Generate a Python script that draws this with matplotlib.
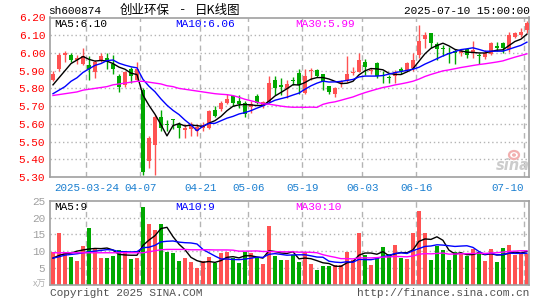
import numpy as np
import pandas as pd
import matplotlib
matplotlib.use("Agg")
import matplotlib.pyplot as plt
from matplotlib.patches import Ellipse

# ---------------- data ----------------
holidays = ["2025-04-04", "2025-05-01", "2025-05-02", "2025-05-05", "2025-06-02"]
dates = [d.strftime("%Y-%m-%d") for d in pd.bdate_range("2025-03-14", "2025-07-10")
         if d.strftime("%Y-%m-%d") not in holidays]

opens = [5.85, 5.91, 5.99, 5.99, 5.96, 5.94, 5.93, 5.89, 5.96, 5.97,
         5.94, 5.87, 5.82, 5.91, 5.85, 5.79, 5.39, 5.48, 5.64, 5.60,
         5.625, 5.60, 5.565, 5.57, 5.56, 5.575, 5.575, 5.68, 5.685, 5.72,
         5.755, 5.73, 5.72, 5.695, 5.755, 5.70, 5.725, 5.85, 5.82, 5.795,
         5.845, 5.885, 5.775, 5.898, 5.905, 5.88, 5.815, 5.77, 5.83, 5.84,
         5.885, 5.895, 5.95, 5.90, 5.945, 5.875, 5.865, 5.87, 5.91, 5.905,
         5.915, 5.99, 6.08, 6.11, 6.05, 6.03, 6.00, 6.01, 6.00, 6.02,
         5.998, 5.99, 5.975, 5.995, 6.04, 6.055, 6.02, 6.092, 6.10, 6.13]
closes = [5.88, 5.99, 6.00, 5.96, 5.97, 5.98, 5.91, 5.95, 5.98, 5.95,
          5.91, 5.81, 5.89, 5.87, 5.91, 5.33, 5.52, 5.64, 5.575, 5.595,
          5.62, 5.575, 5.575, 5.60, 5.58, 5.595, 5.67, 5.645, 5.72, 5.74,
          5.72, 5.71, 5.655, 5.71, 5.72, 5.725, 5.83, 5.80, 5.81, 5.825,
          5.84, 5.82, 5.87, 5.905, 5.87, 5.84, 5.78, 5.805, 5.84, 5.88,
          5.895, 5.96, 5.92, 5.905, 5.87, 5.87, 5.86, 5.89, 5.90, 5.945,
          5.96, 6.07, 6.10, 6.055, 6.025, 6.025, 5.995, 6.00, 6.013, 5.99,
          6.017, 5.98, 5.998, 6.055, 6.027, 6.027, 6.10, 6.114, 6.12, 6.17]
highs = [5.90, 6.00, 6.01, 6.00, 5.99, 6.03, 5.98, 5.96, 6.00, 6.00,
         5.99, 5.88, 5.90, 5.92, 5.95, 5.80, 5.53, 5.65, 5.68, 5.62,
         5.63, 5.61, 5.60, 5.61, 5.60, 5.61, 5.68, 5.70, 5.73, 5.77,
         5.76, 5.76, 5.73, 5.73, 5.77, 5.73, 5.87, 5.87, 5.86, 5.85,
         5.865, 5.91, 5.91, 5.915, 5.91, 5.88, 5.815, 5.81, 5.85, 5.98,
         5.92, 6.00, 5.965, 5.915, 5.95, 5.90, 5.875, 5.905, 5.92, 5.95,
         6.00, 6.16, 6.12, 6.11, 6.06, 6.045, 6.035, 6.02, 6.02, 6.027,
         6.07, 6.00, 6.017, 6.06, 6.064, 6.064, 6.12, 6.12, 6.14, 6.18]
lows = [5.84, 5.90, 5.95, 5.95, 5.94, 5.93, 5.85, 5.86, 5.95, 5.91,
        5.88, 5.78, 5.81, 5.83, 5.84, 5.31, 5.35, 5.31, 5.56, 5.56,
        5.57, 5.52, 5.52, 5.53, 5.53, 5.56, 5.57, 5.64, 5.67, 5.71,
        5.70, 5.69, 5.64, 5.66, 5.71, 5.69, 5.72, 5.76, 5.76, 5.745,
        5.82, 5.77, 5.77, 5.85, 5.865, 5.79, 5.77, 5.75, 5.81, 5.835,
        5.875, 5.89, 5.875, 5.88, 5.86, 5.83, 5.83, 5.83, 5.88, 5.90,
        5.90, 5.97, 6.03, 6.03, 5.96, 5.98, 5.945, 5.94, 5.98, 5.97,
        5.97, 5.94, 5.965, 5.99, 6.01, 6.00, 6.007, 6.085, 6.092, 6.11]
volumes = [9.7, 15.4, 9.6, 8.2, 7.0, 11.5, 16.8, 10.5, 7.9, 7.9,
           8.5, 10.3, 9.6, 7.5, 7.9, 23.3, 18.2, 16.2, 18.2, 9.7,
           9.4, 6.9, 7.9, 6.7, 4.8, 6.9, 8.2, 6.5, 9.4, 9.7,
           7.9, 6.3, 9.7, 9.4, 7.9, 6.2, 17.4, 8.5, 7.2, 7.2,
           8.8, 6.7, 9.7, 6.2, 4.3, 5.6, 5.6, 5.7, 5.9, 9.7,
           7.2, 15.4, 8.9, 5.9, 7.9, 11.1, 9.2, 11.7, 7.9, 7.6,
           15.4, 21.9, 15.4, 7.2, 11.5, 10.2, 7.2, 9.6, 9.1, 8.5,
           10.5, 9.6, 6.9, 10.5, 6.7, 10.9, 11.7, 8.7, 9.1, 9.1]

# moving-average values before enough in-window history exists
ma5_head = [5.82, 5.86, 5.90, 5.94]
ma10_head = [5.77, 5.79, 5.81, 5.84, 5.86, 5.89, 5.91, 5.93, 5.94]
ma30_head = [5.76, 5.765, 5.77, 5.775, 5.78, 5.79, 5.795, 5.80, 5.805, 5.81,
             5.82, 5.825, 5.83, 5.835, 5.84, 5.84, 5.835, 5.83, 5.825, 5.815,
             5.81, 5.80, 5.795, 5.79, 5.785, 5.78, 5.775, 5.77, 5.767]
vma5_head = [7.9, 8.7, 9.2, 9.4]
vma10_head = [7.9, 8.3, 8.8, 9.0, 9.2, 9.5, 9.8, 10.0, 10.2]
vma30_head = [9.5] * 16 + [9.8, 10.1, 10.4, 10.5, 10.5, 10.5, 10.5, 10.4, 10.4,
                           10.4, 10.4, 10.35, 10.35]

tick_dates = ["2025-03-24", "2025-04-07", "2025-04-21", "2025-05-06",
              "2025-05-19", "2025-06-03", "2025-06-16", "2025-07-10"]
tick_labels = ["2025-03-24", "04-07", "04-21", "05-06", "05-19", "06-03", "06-16", "07-10"]
price_ticks = [5.30, 5.40, 5.50, 5.60, 5.70, 5.80, 5.90, 6.00, 6.10, 6.20]
vol_ticks = [5, 10, 15, 20, 25]

header_code = "sh600874"
header_name = "创业环保"
header_kind = "日K线图"
header_time = "2025-07-10 15:00:00"
ma_texts = ["MA5:6.10", "MA10:6.06", "MA30:5.99"]
vma_texts = ["MA5:9", "MA10:9", "MA30:10"]

# ---------------- helpers ----------------
def ma(values, n, head):
    s = pd.Series(values).rolling(n).mean().to_numpy()
    s[:len(head)] = head
    return s

RED = "#ff5252"
GREEN = "#00a800"
GRIDC = "#b4b4b4"
SPINE = "#a0a0a0"
MONO = "Liberation Mono"
CJK = ["Noto Sans CJK SC", "DejaVu Sans"]
W, H = 545, 300

fig = plt.figure(figsize=(W / 100, H / 100), dpi=100)
fig.patch.set_facecolor("white")

def fx(x):
    return x / W

def fy(y):
    return 1 - y / H

ax = fig.add_axes([fx(50), fy(177), fx(529) - fx(50), fy(17.5) - fy(177)])
axv = fig.add_axes([fx(50), fy(284.5), fx(529) - fx(50), fy(201) - fy(284.5)])

n = len(closes)
x = np.arange(n)
o = np.array(opens); c = np.array(closes)
hi = np.array(highs); lo = np.array(lows)
v = np.array(volumes)
up = c >= o
cols = np.where(up, RED, GREEN)

tick_pos = [dates.index(d) - 0.45 for d in tick_dates]

for a in (ax, axv):
    a.set_facecolor("white")
    for s in a.spines.values():
        s.set_color(SPINE)
        s.set_linewidth(1.2)
    a.set_xlim(-0.5, 79.35)
    for tp in tick_pos:
        a.axvline(tp, color=GRIDC, lw=1, ls=(0, (4, 3)), zorder=0)

# main panel
ax.set_ylim(5.30, 6.20)
for t in price_ticks[1:-1]:
    ax.axhline(t, color=GRIDC, lw=1, ls=(0, (1, 2)), zorder=0)
ax.vlines(x, lo, hi, colors=cols, lw=1, zorder=2)
ax.bar(x, np.maximum(np.abs(c - o), 0.004), bottom=np.minimum(o, c), width=0.74,
       color=cols, zorder=3, linewidth=0)
ax.plot(x, ma(closes, 5, ma5_head), color="black", lw=1, zorder=4)
ax.plot(x, ma(closes, 10, ma10_head), color="#0000ff", lw=1, zorder=4)
ax.plot(x, ma(closes, 30, ma30_head), color="#ff00ff", lw=1, zorder=4)

ax.set_yticks(price_ticks)
ax.set_yticklabels([f"{t:.2f}" for t in price_ticks], color="#ff0000",
                   fontfamily=MONO, fontsize=8)
ax.tick_params(axis="y", length=0, pad=3.5)
ax.set_xticks(tick_pos)
ax.set_xticklabels(tick_labels, color="#1a7fd0", fontfamily=MONO, fontsize=7.8)
ax.tick_params(axis="x", length=0, pad=4)
ax.get_xticklabels()[-1].set_ha("right")

# volume panel
axv.set_ylim(0, 25)
for t in vol_ticks[:-1]:
    axv.axhline(t, color=GRIDC, lw=1, ls=(0, (1, 2)), zorder=0)
axv.bar(x, v, width=0.75, color=cols, zorder=2, linewidth=0)
axv.plot(x, ma(volumes, 5, vma5_head), color="black", lw=1, zorder=4)
axv.plot(x, ma(volumes, 10, vma10_head), color="#0000ff", lw=1, zorder=4)
axv.plot(x, ma(volumes, 30, vma30_head), color="#ff00ff", lw=1, zorder=4)
axv.set_yticks(vol_ticks)
axv.set_yticklabels([str(t) for t in vol_ticks], color="#a0a0a0",
                    fontfamily=MONO, fontsize=8)
axv.tick_params(axis="y", length=0, pad=3.5)
axv.set_xticks([])

# ---------------- texts ----------------
fig.text(fx(48), fy(11), header_code, fontfamily=MONO, fontsize=8, color="black",
         va="center", ha="left")
fig.text(fx(120), fy(10.5), header_name, fontfamily=CJK,
         fontsize=9, color="black", va="center", ha="left")
fig.text(fx(183), fy(10.5), "-", fontfamily=MONO,
         fontsize=9, color="black", va="center", ha="center")
fig.text(fx(195), fy(10.5), header_kind, fontfamily=CJK,
         fontsize=9, color="black", va="center", ha="left")
fig.text(fx(530), fy(11.5), header_time, fontfamily=MONO, fontsize=8, color="black",
         va="center", ha="right")

for txt, xp, col in zip(ma_texts, [54, 175, 295], ["black", "#0000ff", "#ff00ff"]):
    fig.text(fx(xp), fy(24), txt, fontfamily=MONO, fontsize=8, color=col,
             va="center", ha="left")
for txt, xp, col in zip(vma_texts, [54, 175, 295], ["black", "#0000ff", "#ff00ff"]):
    fig.text(fx(xp), fy(207), txt, fontfamily=MONO, fontsize=8, color=col,
             va="center", ha="left")

fig.text(fx(50), fy(292.5), "Copyright 2025 SINA.COM", fontfamily=MONO, fontsize=8,
         color="#505050", va="center", ha="left")
fig.text(fx(529), fy(292.5), "http://finance.sina.com.cn", fontfamily=MONO, fontsize=8,
         color="#505050", va="center", ha="right")
fig.text(fx(46), fy(284), "x万", fontfamily=CJK,
         fontsize=6.5, color="#b0b0b0", style="italic", va="center", ha="right")

# sina watermark (eye logo drawn as shapes, word as text)
fig.add_artist(Ellipse((fx(514), fy(155)), 10 / W, 8 / H, transform=fig.transFigure,
                       facecolor="none", edgecolor="#f2b0b0", lw=1.6, zorder=1))
fig.add_artist(Ellipse((fx(514), fy(155)), 4 / W, 3.5 / H, transform=fig.transFigure,
                       facecolor="#f2b0b0", edgecolor="none", zorder=1))
fig.text(fx(513), fy(166), "sina", fontfamily="DejaVu Sans", fontsize=10.5,
         fontweight="bold", style="italic", color="#cccccc", va="center", ha="center")

fig.savefig("out.png", dpi=100, facecolor="white")
